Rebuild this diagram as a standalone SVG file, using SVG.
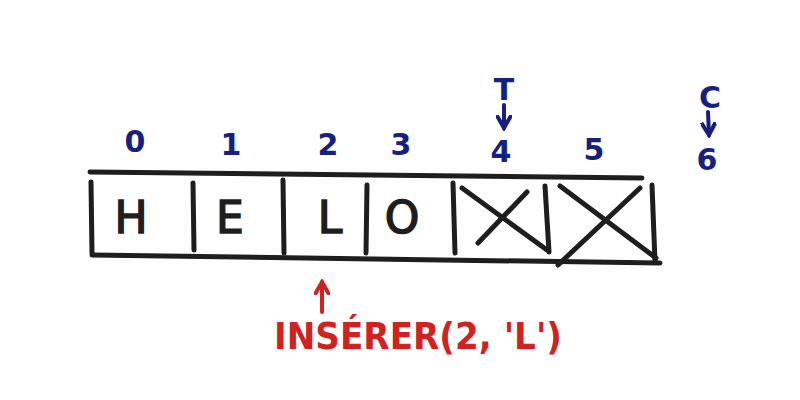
<svg xmlns="http://www.w3.org/2000/svg" width="800" height="400" viewBox="0 0 800 400">
<defs>
<style>
.ln{stroke:#1e1e1e;stroke-width:5;stroke-linecap:round;fill:none}
.ch{font-family:"DejaVu Sans","Liberation Sans",sans-serif;font-size:44px;fill:#1e1e1e;stroke:#1e1e1e;stroke-width:1.5;text-anchor:middle}
.ix{font-family:"DejaVu Sans","Liberation Sans",sans-serif;font-size:30px;font-weight:bold;fill:#16207e;text-anchor:middle}
.bl{stroke:#16207e;stroke-width:4;stroke-linecap:round;fill:none}
.rd{stroke:#d0231f;stroke-width:4;stroke-linecap:round;fill:none}
.rt{font-family:"DejaVu Sans","Liberation Sans",sans-serif;font-size:38px;font-weight:bold;fill:#d0231f}
</style>
<marker id="ab" viewBox="0 0 10 10" refX="8" refY="5" markerWidth="4" markerHeight="4" orient="auto"><path d="M1,1 L8,5 L1,9" fill="none" stroke="#16207e" stroke-width="2.5" stroke-linecap="round"/></marker>
<marker id="ar" viewBox="0 0 10 10" refX="8" refY="5" markerWidth="4" markerHeight="4" orient="auto"><path d="M1,1 L8,5 L1,9" fill="none" stroke="#d0231f" stroke-width="2.5" stroke-linecap="round"/></marker>
</defs>
<rect width="800" height="400" fill="#ffffff"/>
<g id="array-frame">
<path class="ln" d="M90,172 L642,178"/>
<path class="ln" d="M92,255 L660,263"/>
</g>
<g id="cell-0"><path class="ln" d="M91,182 L92,253"/><text class="ch" x="131" y="233">H</text></g>
<g id="cell-1"><path class="ln" d="M193,183 L194,250"/><text class="ch" x="230" y="233">E</text></g>
<g id="cell-2"><path class="ln" d="M283,180 L284,253"/><text class="ch" x="330" y="233">L</text></g>
<g id="cell-3"><path class="ln" d="M367,185 L366,253"/><text class="ch" x="402" y="233">O</text></g>
<g id="cell-4"><path class="ln" d="M453,183 L455,253"/><path class="ln" d="M462,188 L547,250"/><path class="ln" d="M527,192 L478,243"/></g>
<g id="cell-5"><path class="ln" d="M545,186 L549,252"/><path class="ln" d="M560,186 L656,258"/><path class="ln" d="M640,188 L558,265"/><path class="ln" d="M652,185 L655,262"/></g>
<g id="indices">
<text class="ix" x="135" y="152">0</text>
<text class="ix" x="231" y="155">1</text>
<text class="ix" x="328" y="155">2</text>
<text class="ix" x="401" y="155">3</text>
<text class="ix" x="501" y="162">4</text>
<text class="ix" x="594" y="160">5</text>
<text class="ix" x="707" y="170">6</text>
</g>
<g id="label-T"><text class="ix" x="504" y="100">T</text></g>
<g id="label-C"><text class="ix" x="710" y="108">C</text></g>
<g id="label-insert"><text class="rt" x="274" y="349" textLength="288" lengthAdjust="spacingAndGlyphs">INSÉRER(2, 'L')</text></g>
<g id="connectors">
<path class="bl" d="M504,105 L504,128" marker-end="url(#ab)"/>
<path class="bl" d="M708,112 L709,135" marker-end="url(#ab)"/>
<path class="rd" d="M322,312 L322,282" marker-end="url(#ar)"/>
</g>
</svg>
